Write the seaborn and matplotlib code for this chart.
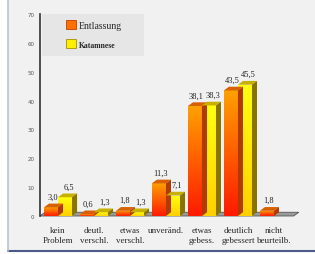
import numpy as np
import pandas as pd
import matplotlib
matplotlib.use("Agg")
import matplotlib.pyplot as plt
from matplotlib.patches import Polygon, Rectangle, Patch
import seaborn as sns

categories = ["kein\nProblem", "deutl.\nverschl.", "etwas\nverschl.", "unveränd.",
              "etwas\ngebess.", "deutlich\ngebessert", "nicht\nbeurteilb."]
entlassung = [3.0, 0.6, 1.8, 11.3, 38.1, 43.5, 1.8]
katamnese = [6.5, 1.3, 1.3, 7.1, 38.3, 45.5, 0.0]
series = ["Entlassung", "Katamnese"]

df = pd.DataFrame({
    "cat": categories * 2,
    "val": entlassung + katamnese,
    "serie": [series[0]] * 7 + [series[1]] * 7,
})

sns.set_style("white")
plt.rcParams["font.family"] = ["Liberation Serif", "DejaVu Serif"]

fig = plt.figure(figsize=(3.15, 2.55), dpi=100)
fig.patch.set_facecolor("white")
# panel background with border
fig.add_artist(Rectangle((8 / 315, 3 / 255), 307 / 315, 252 / 255, transform=fig.transFigure,
                         facecolor="#f1f1f1", edgecolor="none", zorder=-10))
fig.add_artist(plt.Line2D([8 / 315, 1], [3 / 255, 3 / 255], color="#4a5a8a", lw=1.5,
                          transform=fig.transFigure, zorder=-5))
fig.add_artist(plt.Line2D([8 / 315, 8 / 315], [3 / 255, 1], color="#b8c0dc", lw=1.2,
                          transform=fig.transFigure, zorder=-5))

ax = fig.add_axes([40 / 315, 38 / 255, 262 / 315, 202 / 255])
ax.set_facecolor("none")
ax.set_zorder(5)

sns.barplot(data=df, x="cat", y="val", hue="serie", order=categories, hue_order=series,
            width=0.78, ax=ax, legend=False, palette=["#ff6a00", "#ffee00"],
            edgecolor="none", linewidth=0, zorder=3)

dx, dy = 0.14, 1.3
# 3D floor
ax.add_patch(Polygon([(-0.5, 0), (6.55, 0), (6.55 + dx, dy), (-0.5 + dx, dy)], closed=True,
                     facecolor="#9a9a9a", edgecolor="#555555", lw=0.6, zorder=1, clip_on=False))

grad = np.linspace(0, 1, 100).reshape(-1, 1)
styles = {
    0: dict(cmap=matplotlib.colors.LinearSegmentedColormap.from_list("e", ["#ff1a00", "#ffa000"]),
            top="#d86000", side="#b03a00"),
    1: dict(cmap=matplotlib.colors.LinearSegmentedColormap.from_list("k", ["#ffd000", "#ffff10"]),
            top="#c8b000", side="#8a7400"),
}
vals = [entlassung, katamnese]
for si, container in enumerate(ax.containers):
    st = styles[si]
    for i, bar in enumerate(container):
        v = vals[si][i]
        if v <= 0:
            bar.set_visible(False)
            continue
        x0, w = bar.get_x(), bar.get_width()
        bar.set_facecolor("none")
        im = ax.imshow(grad, extent=(x0, x0 + w, 0, v), origin="lower", aspect="auto",
                       cmap=st["cmap"], zorder=3)
        im.set_clip_path(bar)
        ax.add_patch(Polygon([(x0, v), (x0 + w, v), (x0 + w + dx, v + dy), (x0 + dx, v + dy)],
                             closed=True, facecolor=st["top"], edgecolor="none", zorder=4))
        ax.add_patch(Polygon([(x0 + w, 0), (x0 + w + dx, dy), (x0 + w + dx, v + dy), (x0 + w, v)],
                             closed=True, facecolor=st["side"], edgecolor="none", zorder=4))
        label = f"{v:.1f}".replace(".", ",")
        shift = -0.03 if si == 0 else 0.03
        ax.text(x0 + w / 2 + dx / 2 + shift, v + dy + 1.0, label, ha="center", va="bottom",
                fontsize=6, color="#222222", zorder=5)

ax.set_xlim(-0.5, 6.78)
ax.set_ylim(0, 70)
ax.set_xlabel("")
ax.set_ylabel("")
ax.set_yticks(range(0, 71, 10))
ax.tick_params(axis="y", labelsize=4, colors="#333333", length=3, width=1, direction="out",
               labelcolor="#555555", pad=1)
ax.tick_params(axis="x", labelsize=6.5, length=0, pad=7)
for lab in ax.get_yticklabels():
    lab.set_fontfamily("DejaVu Sans")
ax.set_xticks(range(7))
ax.set_xticklabels(categories, linespacing=1.45)
for s in ["top", "right", "bottom"]:
    ax.spines[s].set_visible(False)
ax.spines["left"].set_color("#333333")
ax.spines["left"].set_linewidth(1.2)

# legend box
ax.add_patch(Rectangle((0.008, 0.79), 0.39, 0.21, transform=ax.transAxes,
                       facecolor="#e6e6e6", edgecolor="none", zorder=6))
handles = [Patch(facecolor="#ff7000", edgecolor="#c04000", lw=0.6),
           Patch(facecolor="#ffee00", edgecolor="#a09000", lw=0.6)]
leg = ax.legend(handles, series, loc="upper left", bbox_to_anchor=(0.08, 0.995), frameon=False,
                fontsize=7, handlelength=1.0, handleheight=1.0, borderpad=0.5,
                labelspacing=1.0, handletextpad=0.3, borderaxespad=0)
leg.set_zorder(7)
leg.get_texts()[1].set_fontsize(5.5)
leg.get_texts()[1].set_fontweight("bold")

fig.savefig("out.png", dpi=100)
